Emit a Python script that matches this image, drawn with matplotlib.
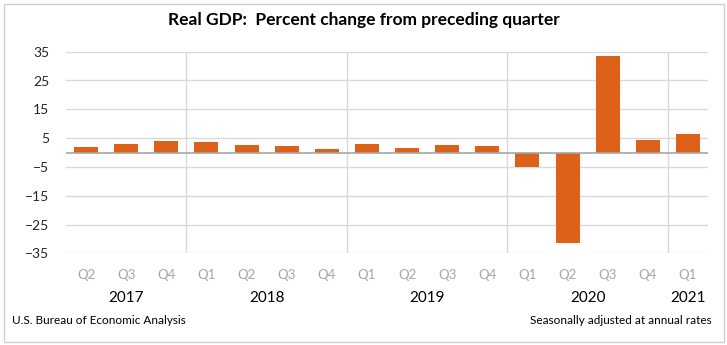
import matplotlib
matplotlib.use('Agg')
import matplotlib.pyplot as plt
import matplotlib.transforms as mtransforms
from matplotlib.patches import Rectangle
import numpy as np

plt.rcParams['font.family'] = ['Lato', 'DejaVu Sans']

quarters = ['Q2', 'Q3', 'Q4', 'Q1', 'Q2', 'Q3', 'Q4', 'Q1', 'Q2', 'Q3', 'Q4',
            'Q1', 'Q2', 'Q3', 'Q4', 'Q1']
years = ['2017', '2017', '2017', '2018', '2018', '2018', '2018', '2019', '2019',
         '2019', '2019', '2020', '2020', '2020', '2020', '2021']
gdp_change = [1.8, 2.9, 3.9, 3.8, 2.7, 2.1, 1.3, 2.9, 1.5, 2.6, 2.4,
              -5.0, -31.4, 33.4, 4.3, 6.4]
y_ticks = [-35, -25, -15, -5, 5, 15, 25, 35]

BAR = '#DD6119'

fig = plt.figure(figsize=(7.27, 3.45), dpi=100)
ax = fig.add_axes([66 / 727, 1 - 253.3 / 345, (708 - 66) / 727, (253.3 - 51.7) / 345])

x = np.arange(len(gdp_change))
ax.bar(x, gdp_change, width=0.6, color=BAR, zorder=3)

ax.set_xlim(-0.5, len(x) - 0.5)
ax.set_ylim(-35, 35)
ax.set_yticks(y_ticks)
ax.yaxis.grid(True, color='#D9D9D9', linewidth=1)
ax.axhline(0, color='#A6A6A6', linewidth=1.2, zorder=4)
ax.tick_params(axis='y', length=0, labelsize=10, labelcolor='#262626', pad=12)

ax.set_xticks(x)
ax.set_xticklabels(quarters)
ax.tick_params(axis='x', length=0, labelsize=9.5, labelcolor='#A6A6A6', pad=11)

for s in ax.spines.values():
    s.set_visible(False)

# year separators and year labels
trans = mtransforms.blended_transform_factory(ax.transData, ax.transAxes)
year_names = list(dict.fromkeys(years))
for yr in year_names:
    idx = [i for i, y in enumerate(years) if y == yr]
    ax.text(np.mean(idx), -0.22, yr, transform=trans, ha='center', va='center',
            fontsize=11, color='#000000')
    if idx[0] > 0:
        ax.axvline(idx[0] - 0.5, color='#D9D9D9', linewidth=1, zorder=1)

fig.text(0.5, 1 - 20 / 345, 'Real GDP:  Percent change from preceding quarter',
         ha='center', va='center', fontsize=12.5, fontweight='bold')
fig.text(12 / 727, 1 - 321 / 345, 'U.S. Bureau of Economic Analysis',
         ha='left', va='center', fontsize=8.5)
fig.text(712 / 727, 1 - 321 / 345, 'Seasonally adjusted at annual rates',
         ha='right', va='center', fontsize=8.5)

fig.patches.append(Rectangle((4 / 727, 3 / 345), 720 / 727, 338 / 345,
                             transform=fig.transFigure, fill=False,
                             edgecolor='#D0D0D0', linewidth=1))

fig.savefig('out.png', dpi=100)
